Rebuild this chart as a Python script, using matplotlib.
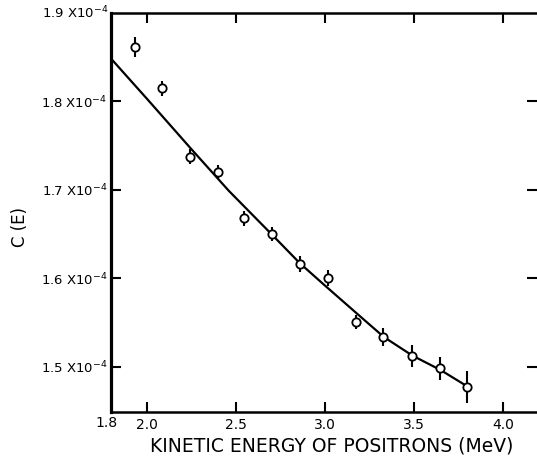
import matplotlib
matplotlib.use("Agg")
import matplotlib.pyplot as plt

# Measured points (C(E) in units of 1e-4)
energy = [1.933, 2.086, 2.242, 2.401, 2.547, 2.704, 2.860, 3.015, 3.174, 3.328, 3.487, 3.646, 3.796]
c_vals = [1.8616, 1.8149, 1.7376, 1.7207, 1.668, 1.6503, 1.616, 1.601, 1.5512, 1.5342, 1.5127, 1.4985, 1.477]
c_err = [0.011, 0.0085, 0.0085, 0.008, 0.0085, 0.008, 0.009, 0.009, 0.008, 0.010, 0.0125, 0.013, 0.018]

# Theoretical curve
curve_x = [1.80, 2.00, 2.25, 2.46, 2.70, 2.86, 3.00, 3.21, 3.33, 3.49, 3.65, 3.80]
curve_y = [1.848, 1.803, 1.746, 1.699, 1.650, 1.617, 1.592, 1.555, 1.534, 1.513, 1.4965, 1.478]

xticks = [2.0, 2.5, 3.0, 3.5, 4.0]
xticklabels = ["2.0", "2.5", "3.0", "3.5", "4.0"]
yticks = [1.5, 1.6, 1.7, 1.8, 1.9]
yticklabels = ["1.5 X10$^{-4}$", "1.6 X10$^{-4}$", "1.7 X10$^{-4}$", "1.8 X10$^{-4}$", "1.9 X10$^{-4}$"]

W, H = 537, 457
fig = plt.figure(figsize=(W / 100, H / 100), dpi=100)
plt.rcParams['font.family'] = ['DejaVu Sans']

left, right, top, bottom = 111.4, 537, 13, 412
ax = fig.add_axes([left / W, (H - bottom) / H, (right - left) / W, (bottom - top) / H])
ax.set_xlim(1.8, 1.8 + (right - left) / 178.0)
ax.set_ylim(1.5 - (bottom - 367) / 885.0, 1.9)

ax.plot(curve_x, curve_y, color='black', lw=1.6, zorder=2)
ax.errorbar(energy, c_vals, yerr=c_err, fmt='o', mfc='white', mec='black',
            ecolor='black', ms=6, mew=1.3, elinewidth=1.5, capsize=0, zorder=3)

ax.spines['right'].set_visible(False)
ax.spines['left'].set_linewidth(2.3)
ax.spines['top'].set_linewidth(1.8)
ax.spines['bottom'].set_linewidth(1.8)

ax.set_xticks(xticks)
ax.set_xticklabels(xticklabels, fontsize=10)
ax.tick_params(axis='x', which='both', direction='in', top=True, bottom=True,
               length=7, width=1.5, pad=4)
ax.set_yticks(yticks[:-1])
ax.set_yticklabels(yticklabels[:-1], fontsize=9.5)
ax.tick_params(axis='y', which='both', direction='in', left=True, right=True,
               length=7, width=1.5, pad=3)

# corner labels
fig.text(106 / W, 1 - 423 / H, "1.8", fontsize=10, ha='center', va='center')
fig.text((left - 3) / W, 1 - 13 / H, yticklabels[-1], fontsize=9.5, ha='right', va='center')

fig.text(332 / W, 1 - 446 / H, "KINETIC ENERGY OF POSITRONS (MeV)", fontsize=13.5,
         ha='center', va='center')
fig.text(20 / W, 1 - 227 / H, "C (E)", fontsize=12, rotation=90, ha='center', va='center')

fig.savefig("out.png", dpi=100)
